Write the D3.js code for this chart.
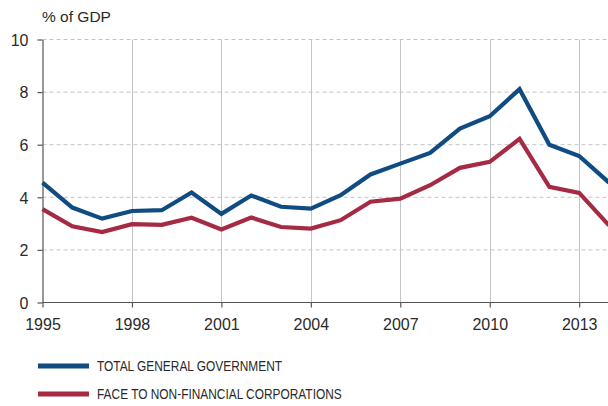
<!DOCTYPE html>
<html>
<head>
<meta charset="utf-8">
<script src="https://cdn.jsdelivr.net/npm/d3@7"></script>
<style>
  html, body { margin: 0; padding: 0; background: #fff; }
  svg { display: block; }
  text { font-family: "Liberation Sans", Arial, sans-serif; fill: #2a2a2a; }
</style>
</head>
<body>
<svg id="chart" width="608" height="406"></svg>
<script>
// Years on the horizontal axis
const years = d3.range(1995, 2015);

// Series values, % of GDP
const totalGeneralGovernment = [4.56, 3.61, 3.19, 3.48, 3.51, 4.18, 3.37, 4.07, 3.64, 3.57,
                                4.08, 4.87, 5.28, 5.69, 6.61, 7.08, 8.11, 6.00, 5.57, 4.56];
const faceToNFC = [3.55, 2.90, 2.68, 2.98, 2.95, 3.22, 2.78, 3.23, 2.87, 2.81,
                   3.13, 3.83, 3.95, 4.46, 5.12, 5.35, 6.22, 4.40, 4.17, 2.93];

// Tick labels
const xTicks = [1995, 1998, 2001, 2004, 2007, 2010, 2013];
const yTicks = [0, 2, 4, 6, 8, 10];

const seriesNames = ["TOTAL GENERAL GOVERNMENT", "FACE TO NON-FINANCIAL CORPORATIONS"];
const seriesColors = ["#104b81", "#a52b45"];

const svg = d3.select("#chart");
const x = d3.scaleLinear().domain([1995, 2014]).range([42.5, 609]);
const y = d3.scaleLinear().domain([0, 10]).range([302.5, 39.5]);

// Horizontal dashed grid
svg.append("g").selectAll("line")
  .data(yTicks.filter(d => d > 0))
  .join("line")
  .attr("x1", x(1995)).attr("x2", 608)
  .attr("y1", d => y(d)).attr("y2", d => y(d))
  .attr("stroke", "#c4c4c4").attr("stroke-width", 1)
  .attr("stroke-dasharray", "4,3");

// Vertical solid grid
svg.append("g").selectAll("line")
  .data(xTicks.filter(d => d > 1995))
  .join("line")
  .attr("x1", d => Math.round(x(d)) + 0.5).attr("x2", d => Math.round(x(d)) + 0.5)
  .attr("y1", y(10)).attr("y2", y(0))
  .attr("stroke", "#c4c4c4").attr("stroke-width", 1);

// Axes
const yAxis = svg.append("g")
  .attr("transform", `translate(${x(1995)},0)`)
  .call(d3.axisLeft(y).tickValues(yTicks).tickSize(5).tickSizeOuter(0));
const xAxis = svg.append("g")
  .attr("transform", `translate(0,${y(0)})`)
  .call(d3.axisBottom(x).tickValues(xTicks).tickFormat(d3.format("d")).tickSize(5).tickSizeOuter(0));

[yAxis, xAxis].forEach(g => {
  g.select(".domain").attr("stroke", "#555").attr("stroke-width", 1.2);
  g.selectAll(".tick line").attr("stroke", "#555").attr("stroke-width", 1.2);
  g.selectAll(".tick text").attr("font-size", 16).attr("fill", "#2a2a2a")
    .style("font-family", "'Liberation Sans', Arial, sans-serif");
});
yAxis.selectAll(".tick text").attr("x", -14).attr("dy", "0.36em");
xAxis.selectAll(".tick text").attr("y", 16).attr("dy", "0.71em");
xAxis.select(".domain").attr("d", `M${x(1995)},0H608`);

// Unit label
svg.append("text")
  .attr("x", 42).attr("y", 22)
  .attr("font-size", 15.5)
  .text("% of GDP");

// Lines
const line = d3.line().x((d, i) => x(years[i])).y(d => y(d));
svg.append("clipPath").attr("id", "plotclip")
  .append("rect").attr("x", 0).attr("y", 0).attr("width", 608).attr("height", 406);

[totalGeneralGovernment, faceToNFC].forEach((vals, k) => {
  svg.append("path")
    .datum(vals)
    .attr("d", line)
    .attr("fill", "none")
    .attr("stroke", seriesColors[k])
    .attr("stroke-width", 4.2)
    .attr("stroke-linejoin", "miter")
    .attr("clip-path", "url(#plotclip)");
});

// Legend (condensed lettering)
const legend = svg.append("g").attr("class", "legend");
seriesNames.forEach((name, k) => {
  const ly = 366 + k * 28;
  legend.append("line")
    .attr("x1", 38).attr("x2", 89)
    .attr("y1", ly).attr("y2", ly)
    .attr("stroke", seriesColors[k]).attr("stroke-width", 5);
  legend.append("text")
    .attr("transform", `translate(97,${ly}) scale(0.85,1)`)
    .attr("dy", "0.36em")
    .attr("font-size", 14)
    .text(name);
});
</script>
</body>
</html>
